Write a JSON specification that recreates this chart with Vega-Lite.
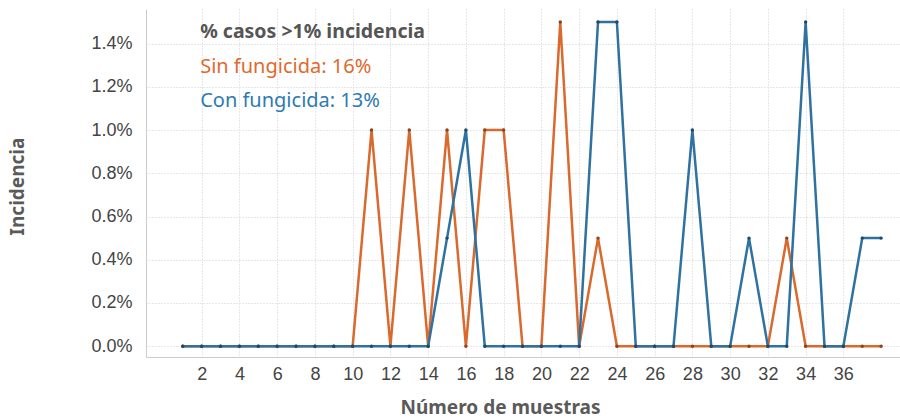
{
  "$schema": "https://vega.github.io/schema/vega-lite/v6.json",
  "width": 754,
  "height": 348,
  "autosize": "none",
  "padding": {"left": 146, "top": 9, "right": 0, "bottom": 63},
  "background": "white",
  "config": {
    "view": {"stroke": null},
    "axis": {
      "labelFont": "Liberation Sans",
      "labelFontSize": 18,
      "labelColor": "#444444",
      "titleFont": "Noto Sans",
      "titleFontWeight": "bold",
      "titleFontSize": 19,
      "titleColor": "#5a5a5a",
      "domainColor": "#cccccc",
      "gridColor": "#cfcfcf",
      "gridDash": [1, 2],
      "gridWidth": 1,
      "ticks": false
    }
  },
  "datasets": {
    "series": [
      {"muestra": 1, "serie": "Sin fungicida", "incidencia": 0},
      {"muestra": 2, "serie": "Sin fungicida", "incidencia": 0},
      {"muestra": 3, "serie": "Sin fungicida", "incidencia": 0},
      {"muestra": 4, "serie": "Sin fungicida", "incidencia": 0},
      {"muestra": 5, "serie": "Sin fungicida", "incidencia": 0},
      {"muestra": 6, "serie": "Sin fungicida", "incidencia": 0},
      {"muestra": 7, "serie": "Sin fungicida", "incidencia": 0},
      {"muestra": 8, "serie": "Sin fungicida", "incidencia": 0},
      {"muestra": 9, "serie": "Sin fungicida", "incidencia": 0},
      {"muestra": 10, "serie": "Sin fungicida", "incidencia": 0},
      {"muestra": 11, "serie": "Sin fungicida", "incidencia": 1.0},
      {"muestra": 12, "serie": "Sin fungicida", "incidencia": 0},
      {"muestra": 13, "serie": "Sin fungicida", "incidencia": 1.0},
      {"muestra": 14, "serie": "Sin fungicida", "incidencia": 0},
      {"muestra": 15, "serie": "Sin fungicida", "incidencia": 1.0},
      {"muestra": 16, "serie": "Sin fungicida", "incidencia": 0},
      {"muestra": 17, "serie": "Sin fungicida", "incidencia": 1.0},
      {"muestra": 18, "serie": "Sin fungicida", "incidencia": 1.0},
      {"muestra": 19, "serie": "Sin fungicida", "incidencia": 0},
      {"muestra": 20, "serie": "Sin fungicida", "incidencia": 0},
      {"muestra": 21, "serie": "Sin fungicida", "incidencia": 1.5},
      {"muestra": 22, "serie": "Sin fungicida", "incidencia": 0},
      {"muestra": 23, "serie": "Sin fungicida", "incidencia": 0.5},
      {"muestra": 24, "serie": "Sin fungicida", "incidencia": 0},
      {"muestra": 25, "serie": "Sin fungicida", "incidencia": 0},
      {"muestra": 26, "serie": "Sin fungicida", "incidencia": 0},
      {"muestra": 27, "serie": "Sin fungicida", "incidencia": 0},
      {"muestra": 28, "serie": "Sin fungicida", "incidencia": 0},
      {"muestra": 29, "serie": "Sin fungicida", "incidencia": 0},
      {"muestra": 30, "serie": "Sin fungicida", "incidencia": 0},
      {"muestra": 31, "serie": "Sin fungicida", "incidencia": 0},
      {"muestra": 32, "serie": "Sin fungicida", "incidencia": 0},
      {"muestra": 33, "serie": "Sin fungicida", "incidencia": 0.5},
      {"muestra": 34, "serie": "Sin fungicida", "incidencia": 0},
      {"muestra": 35, "serie": "Sin fungicida", "incidencia": 0},
      {"muestra": 36, "serie": "Sin fungicida", "incidencia": 0},
      {"muestra": 37, "serie": "Sin fungicida", "incidencia": 0},
      {"muestra": 38, "serie": "Sin fungicida", "incidencia": 0},
      {"muestra": 1, "serie": "Con fungicida", "incidencia": 0},
      {"muestra": 2, "serie": "Con fungicida", "incidencia": 0},
      {"muestra": 3, "serie": "Con fungicida", "incidencia": 0},
      {"muestra": 4, "serie": "Con fungicida", "incidencia": 0},
      {"muestra": 5, "serie": "Con fungicida", "incidencia": 0},
      {"muestra": 6, "serie": "Con fungicida", "incidencia": 0},
      {"muestra": 7, "serie": "Con fungicida", "incidencia": 0},
      {"muestra": 8, "serie": "Con fungicida", "incidencia": 0},
      {"muestra": 9, "serie": "Con fungicida", "incidencia": 0},
      {"muestra": 10, "serie": "Con fungicida", "incidencia": 0},
      {"muestra": 11, "serie": "Con fungicida", "incidencia": 0},
      {"muestra": 12, "serie": "Con fungicida", "incidencia": 0},
      {"muestra": 13, "serie": "Con fungicida", "incidencia": 0},
      {"muestra": 14, "serie": "Con fungicida", "incidencia": 0},
      {"muestra": 15, "serie": "Con fungicida", "incidencia": 0.5},
      {"muestra": 16, "serie": "Con fungicida", "incidencia": 1.0},
      {"muestra": 17, "serie": "Con fungicida", "incidencia": 0},
      {"muestra": 18, "serie": "Con fungicida", "incidencia": 0},
      {"muestra": 19, "serie": "Con fungicida", "incidencia": 0},
      {"muestra": 20, "serie": "Con fungicida", "incidencia": 0},
      {"muestra": 21, "serie": "Con fungicida", "incidencia": 0},
      {"muestra": 22, "serie": "Con fungicida", "incidencia": 0},
      {"muestra": 23, "serie": "Con fungicida", "incidencia": 1.5},
      {"muestra": 24, "serie": "Con fungicida", "incidencia": 1.5},
      {"muestra": 25, "serie": "Con fungicida", "incidencia": 0},
      {"muestra": 26, "serie": "Con fungicida", "incidencia": 0},
      {"muestra": 27, "serie": "Con fungicida", "incidencia": 0},
      {"muestra": 28, "serie": "Con fungicida", "incidencia": 1.0},
      {"muestra": 29, "serie": "Con fungicida", "incidencia": 0},
      {"muestra": 30, "serie": "Con fungicida", "incidencia": 0},
      {"muestra": 31, "serie": "Con fungicida", "incidencia": 0.5},
      {"muestra": 32, "serie": "Con fungicida", "incidencia": 0},
      {"muestra": 33, "serie": "Con fungicida", "incidencia": 0},
      {"muestra": 34, "serie": "Con fungicida", "incidencia": 1.5},
      {"muestra": 35, "serie": "Con fungicida", "incidencia": 0},
      {"muestra": 36, "serie": "Con fungicida", "incidencia": 0},
      {"muestra": 37, "serie": "Con fungicida", "incidencia": 0.5},
      {"muestra": 38, "serie": "Con fungicida", "incidencia": 0.5}
    ],
    "notas": [
      {"texto": "% casos >1% incidencia", "tipo": "titulo"},
      {"texto": "Sin fungicida: 16%", "tipo": "Sin fungicida"},
      {"texto": "Con fungicida: 13%", "tipo": "Con fungicida"}
    ]
  },
  "layer": [
    {
      "data": {"name": "series"},
      "encoding": {
        "x": {
          "field": "muestra",
          "type": "quantitative",
          "scale": {"domain": [-0.95, 39], "nice": false, "zero": false},
          "axis": {
            "title": "Número de muestras",
            "values": [2, 4, 6, 8, 10, 12, 14, 16, 18, 20, 22, 24, 26, 28, 30, 32, 34, 36],
            "labelPadding": 8,
            "titleX": 354,
            "titleY": 50,
            "titleBaseline": "middle",
            "titleAlign": "center"
          }
        },
        "y": {
          "field": "incidencia",
          "type": "quantitative",
          "scale": {"domain": [-0.05, 1.56], "nice": false, "zero": false},
          "axis": {
            "title": "Incidencia",
            "values": [0, 0.2, 0.4, 0.6, 0.8, 1.0, 1.2, 1.4],
            "labelExpr": "format(datum.value, '.1f') + '%'",
            "labelPadding": 14,
            "titleX": -129,
            "titleY": 177,
            "titleBaseline": "middle",
            "titleAlign": "center",
            "titleAngle": -90
          }
        }
      },
      "layer": [
        {
          "transform": [{"filter": "datum.serie === 'Sin fungicida'"}],
          "mark": {"type": "line", "stroke": "#d9692c", "strokeWidth": 2.5}
        },
        {
          "transform": [{"filter": "datum.serie === 'Sin fungicida'"}],
          "mark": {"type": "point", "filled": true, "size": 12, "color": "#8a4420", "opacity": 1}
        },
        {
          "transform": [{"filter": "datum.serie === 'Con fungicida'"}],
          "mark": {"type": "line", "stroke": "#2f71a0", "strokeWidth": 2.5}
        },
        {
          "transform": [{"filter": "datum.serie === 'Con fungicida'"}],
          "mark": {"type": "point", "filled": true, "size": 12, "color": "#1f4a66", "opacity": 1}
        }
      ]
    },
    {
      "data": {"name": "notas"},
      "transform": [{"filter": "datum.tipo === 'titulo'"}],
      "mark": {"type": "text", "font": "Noto Sans", "fontWeight": "bold", "fontSize": 19.5, "color": "#555555", "align": "left", "baseline": "middle"},
      "encoding": {
        "text": {"field": "texto", "type": "nominal"},
        "x": {"datum": 1.92, "type": "quantitative"},
        "y": {"datum": 1.454, "type": "quantitative"}
      }
    },
    {
      "data": {"name": "notas"},
      "transform": [{"filter": "datum.tipo === 'Sin fungicida'"}],
      "mark": {"type": "text", "font": "Noto Sans", "fontSize": 20, "color": "#e0692c", "align": "left", "baseline": "middle"},
      "encoding": {
        "text": {"field": "texto", "type": "nominal"},
        "x": {"datum": 1.92, "type": "quantitative"},
        "y": {"datum": 1.29, "type": "quantitative"}
      }
    },
    {
      "data": {"name": "notas"},
      "transform": [{"filter": "datum.tipo === 'Con fungicida'"}],
      "mark": {"type": "text", "font": "Noto Sans", "fontSize": 20, "color": "#2e7ab3", "align": "left", "baseline": "middle"},
      "encoding": {
        "text": {"field": "texto", "type": "nominal"},
        "x": {"datum": 1.92, "type": "quantitative"},
        "y": {"datum": 1.134, "type": "quantitative"}
      }
    }
  ]
}
